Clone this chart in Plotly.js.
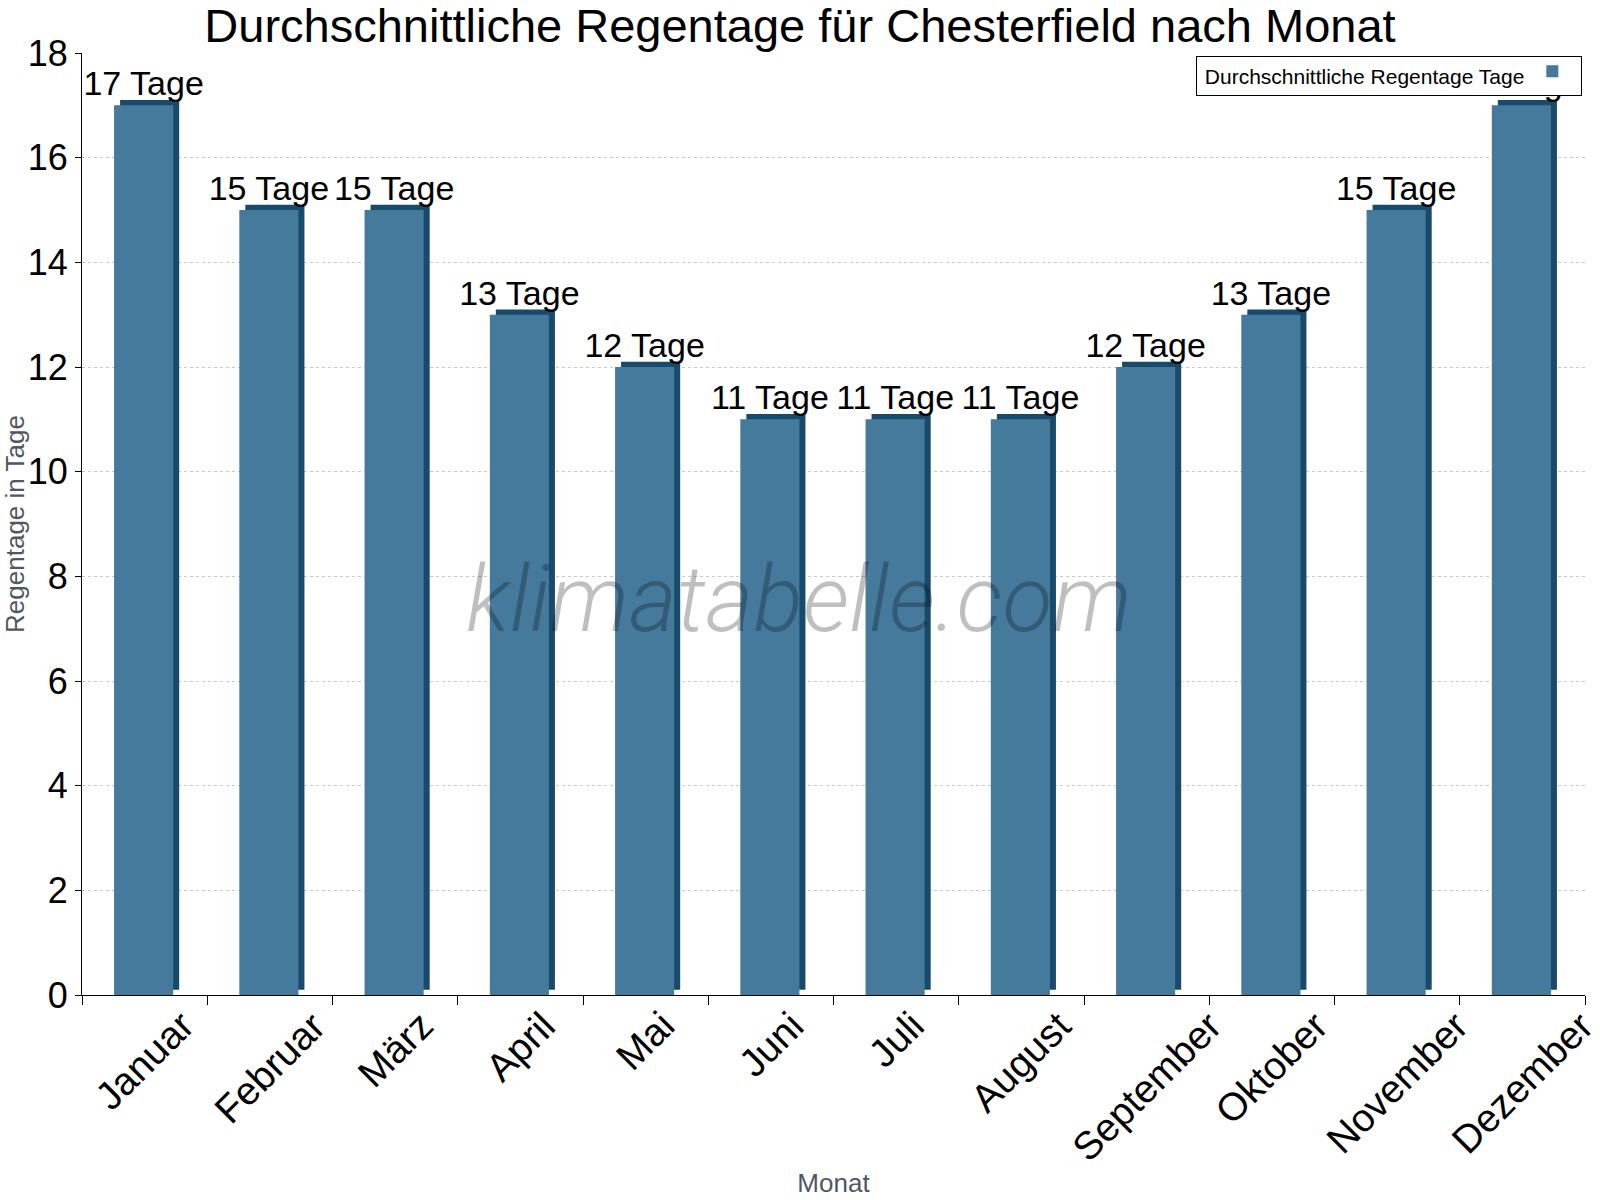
<!DOCTYPE html>
<html>
<head>
<meta charset="utf-8">
<script src="https://cdn.plot.ly/plotly-3.0.1.min.js"></script>
<style>
  body { margin: 0; background: #fff; }
  #graph { width: 1600px; height: 1200px; }
</style>
</head>
<body>
<div id="graph"></div>
<script>
// Durchschnittliche Regentage pro Monat (Chesterfield)
const months = ['Januar', 'Februar', 'März', 'April', 'Mai', 'Juni',
                'Juli', 'August', 'September', 'Oktober', 'November', 'Dezember'];
const rainDays = [17, 15, 15, 13, 12, 11, 11, 11, 12, 13, 15, 17];
const yTicks = [0, 2, 4, 6, 8, 10, 12, 14, 16, 18];

const FACE = '#467a9c';
const SIDE = '#184a6b';
const FONT = 'Liberation Sans, Arial, sans-serif';

// dark "3d" body behind the bar, shifted a little right and up
const depth = {
    type: 'bar',
    x: months,
    y: rainDays,
    base: 0.1,
    width: 0.472,
    offset: -0.196,
    marker: { color: SIDE },
    hoverinfo: 'skip',
    showlegend: false
};

const front = {
    type: 'bar',
    x: months,
    y: rainDays,
    width: 0.472,
    offset: -0.244,
    name: ' ',
    marker: { color: FACE, line: { color: SIDE, width: 0 } },
    texttemplate: '%{y} Tage',
    textposition: 'outside',
    constraintext: 'none',
    cliponaxis: false,
    textfont: { family: FONT, size: 34, color: '#000' },
    hovertemplate: '%{x}: %{y} Tage<extra></extra>'
};

// month labels: rotated, centred under each category
const monthLabels = months.map(m => ({
    text: m,
    xref: 'x', yref: 'paper',
    x: m, y: -0.006,
    xanchor: 'center', yanchor: 'top',
    textangle: -45,
    showarrow: false,
    font: { family: FONT, size: 39, color: '#000' }
}));

const watermark = {
    text: 'klimatabelle.com',
    xref: 'paper', yref: 'paper',
    x: 0.477, y: 0.42,
    xanchor: 'center', yanchor: 'middle',
    showarrow: false,
    font: { family: 'Roboto, sans-serif', size: 92, color: 'rgba(0,0,0,0.25)', style: 'italic', weight: 300 }
};

const layout = {
    width: 1600,
    height: 1200,
    paper_bgcolor: '#fff',
    plot_bgcolor: '#fff',
    barmode: 'overlay',
    margin: { l: 82, r: 15, t: 53, b: 205 },
    font: { family: FONT, color: '#000' },
    title: {
        text: 'Durchschnittliche Regentage für Chesterfield nach Monat',
        font: { family: FONT, size: 47, color: '#000' },
        x: 0.5, xanchor: 'center',
        yref: 'container', y: 0.979, yanchor: 'middle'
    },
    xaxis: {
        type: 'category',
        range: [-0.5, months.length - 0.5],
        tickson: 'boundaries',
        ticks: 'outside',
        ticklen: 9,
        tickcolor: '#000',
        showline: true,
        linecolor: '#000',
        linewidth: 1,
        showgrid: false,
        showticklabels: false,
        automargin: false,
        title: { text: 'Monat', font: { family: FONT, size: 26, color: '#4f5762' }, standoff: 178 }
    },
    yaxis: {
        range: [0, 18],
        tickvals: yTicks,
        ticks: 'outside',
        ticklen: 6,
        tickcolor: '#000',
        showline: true,
        linecolor: '#000',
        linewidth: 1,
        gridcolor: '#c8c8c8',
        griddash: 'dot',
        zeroline: false,
        automargin: false,
        tickfont: { family: FONT, size: 36, color: '#000' },
        title: { text: 'Regentage in Tage', font: { family: FONT, size: 26, color: '#4f5762' }, standoff: 6 }
    },
    legend: {
        x: 0.998, xanchor: 'right',
        y: 0.997, yanchor: 'top',
        bgcolor: '#fff',
        bordercolor: '#000',
        borderwidth: 1,
        itemwidth: 30,
        title: { text: '&nbsp;Durchschnittliche Regentage Tage', side: 'left', font: { family: FONT, size: 21, color: '#000' } },
        font: { family: FONT, size: 10, color: '#000' }
    },
    showlegend: true,
    annotations: monthLabels.concat([watermark])
};

Plotly.newPlot('graph', [depth, front], layout, { displayModeBar: false });
</script>
</body>
</html>
